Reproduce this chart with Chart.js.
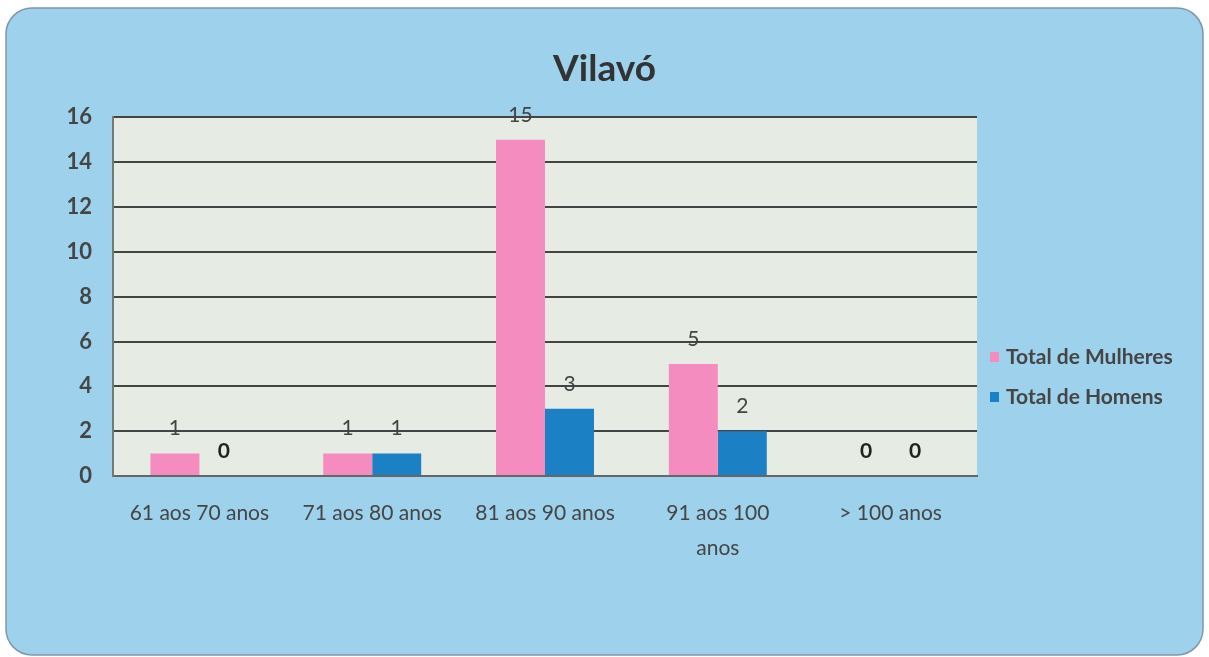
<!DOCTYPE html>
<html>
<head>
<meta charset="utf-8">
<script src="https://cdn.jsdelivr.net/npm/chart.js@4/dist/chart.umd.min.js"></script>
<style>
  html, body { margin: 0; padding: 0; background: #fff; }
  #wrap { width: 1209px; height: 657px; }
</style>
</head>
<body>
<div id="wrap"><canvas id="chart" width="1209" height="657"></canvas></div>
<script>
// Data
const categories = ['61 aos 70 anos', '71 aos 80 anos', '81 aos 90 anos', ['91 aos 100', 'anos'], '> 100 anos'];
const mulheres = [1, 1, 15, 5, 0];
const homens = [0, 1, 3, 2, 0];
const yTicks = [0, 2, 4, 6, 8, 10, 12, 14, 16];

const FONT = 'Lato, "Open Sans", sans-serif';
const TEXT = '#454545';

// Rounded light blue card + plot background
const backdrop = {
  id: 'backdrop',
  beforeDraw(chart) {
    const c = chart.ctx;
    c.save();
    c.fillStyle = '#ffffff';
    c.fillRect(0, 0, chart.width, chart.height);
    c.beginPath();
    c.roundRect(6, 8, 1197, 647, 26);
    c.fillStyle = '#9dd1ec';
    c.fill();
    c.strokeStyle = '#7f98a6';
    c.lineWidth = 1.5;
    c.stroke();
    const a = chart.chartArea;
    c.fillStyle = '#e6ebe4';
    c.fillRect(a.left, a.top, a.right - a.left, a.bottom - a.top);
    c.restore();
  }
};

// Value labels above bars
const valueLabels = {
  id: 'valueLabels',
  afterDatasetsDraw(chart) {
    const c = chart.ctx;
    c.save();
    c.textAlign = 'center';
    c.textBaseline = 'middle';
    chart.data.datasets.forEach((ds, i) => {
      chart.getDatasetMeta(i).data.forEach((bar, j) => {
        const v = ds.data[j];
        c.font = (v === 0 ? 'bold ' : '') + '21px ' + FONT;
        c.fillStyle = v === 0 ? '#222' : '#444';
        c.fillText(String(v), bar.x, bar.y - 25);
      });
    });
    c.restore();
  }
};

// Legend on the right, drawn from the datasets
const sideLegend = {
  id: 'sideLegend',
  afterDraw(chart) {
    const c = chart.ctx;
    c.save();
    c.font = 'bold 21px ' + FONT;
    c.textBaseline = 'middle';
    chart.data.datasets.forEach((ds, i) => {
      const y = 357 + i * 40;
      c.fillStyle = ds.backgroundColor;
      c.fillRect(990, y - 5, 9, 10);
      c.fillStyle = TEXT;
      c.fillText(ds.label, 1006, y);
    });
    c.restore();
  }
};

new Chart(document.getElementById('chart'), {
  type: 'bar',
  data: {
    labels: categories,
    datasets: [
      { label: 'Total de Mulheres', data: mulheres, backgroundColor: '#f48cbf' },
      { label: 'Total de Homens', data: homens, backgroundColor: '#1c80c4' }
    ]
  },
  options: {
    responsive: false,
    animation: false,
    layout: { padding: 0 },
    datasets: { bar: { categoryPercentage: 0.567, barPercentage: 1 } },
    plugins: {
      legend: { display: false },
      tooltip: { enabled: false },
      title: {
        display: true,
        text: 'Vilavó',
        color: '#333',
        font: { family: FONT, size: 37, weight: 'bold' },
        padding: { top: 47, bottom: 26 },
        fullSize: true
      }
    },
    scales: {
      x: {
        grid: { display: false, drawTicks: false },
        border: { color: '#666', width: 2 },
        ticks: {
          color: TEXT, padding: 20, maxRotation: 0, autoSkip: false,
          font: { family: FONT, size: 21, lineHeight: 1.65 }
        },
        afterFit(s) { s.height = 181; }
      },
      y: {
        min: 0, max: 16,
        afterBuildTicks(s) { s.ticks = yTicks.map(v => ({ value: v })); },
        grid: { color: '#444', lineWidth: 2, drawTicks: false },
        border: { color: '#777', width: 2 },
        ticks: {
          color: TEXT, padding: 21,
          font: { family: FONT, size: 22, weight: 'bold' }
        },
        afterFit(s) { s.width = 113; }
      },
      // empty right-hand gutter that holds the legend
      gutter: {
        type: 'linear',
        position: 'right',
        grid: { display: false, drawTicks: false },
        border: { display: false },
        ticks: { display: false },
        afterFit(s) { s.width = 232; }
      }
    }
  },
  plugins: [backdrop, valueLabels, sideLegend]
});
</script>
</body>
</html>
